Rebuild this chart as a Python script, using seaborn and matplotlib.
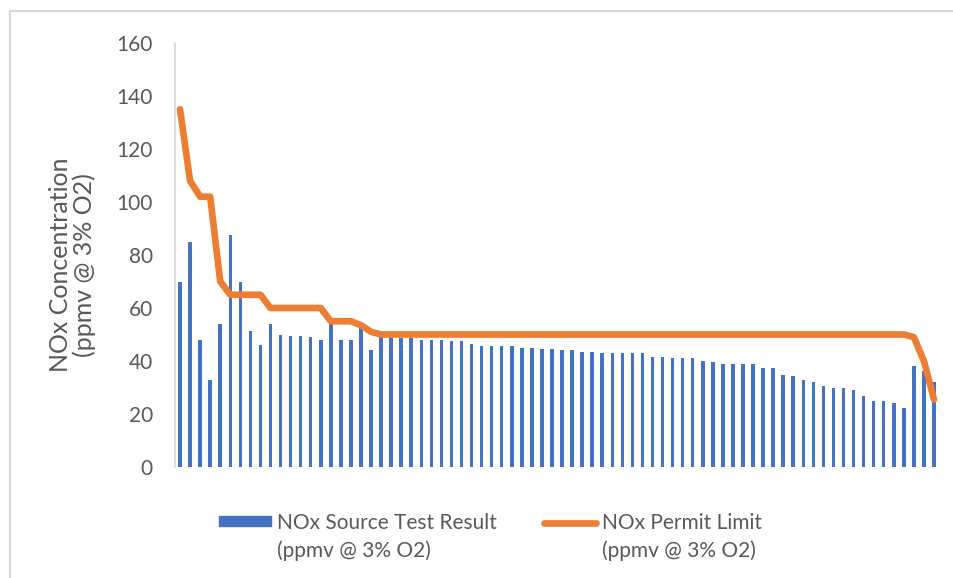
import seaborn as sns
import matplotlib.pyplot as plt
import matplotlib.lines as mlines
import matplotlib.transforms as mtransforms
from matplotlib.legend_handler import HandlerPatch, HandlerLine2D
import pandas as pd

# data
tests = list(range(1, 77))
result = [70, 85, 48, 33, 54, 87.5, 70, 51.5, 46, 54,
          50, 49.5, 49.5, 49, 48, 54, 48, 48, 53, 44,
          49.2, 49.2, 48.6, 48.6, 48, 48, 48, 47.4, 47.4, 46.5,
          45.5, 45.5, 45.5, 45.5, 45, 45, 44.5, 44.5,
          44, 44, 43.5, 43.5, 43, 43, 43, 43, 43, 41.6, 41.6,
          41, 41, 41, 40, 39.6, 38.7, 38.7, 38.7,
          38.7, 37.2, 37.2, 34.8, 34.3, 33, 32, 30.6, 30, 30,
          29.2, 26.7, 24.8, 24.8, 24.3, 22.4, 38.2, 36.3, 32]
limit = [135, 108, 102, 102, 70, 65, 65, 65, 65, 60,
         60, 60, 60, 60, 60, 55, 55, 55, 53.5, 51,
         50, 50, 50, 50, 50, 50, 50, 50, 50, 50,
         50, 50, 50, 50, 50, 50, 50, 50, 50, 50,
         50, 50, 50, 50, 50, 50, 50, 50, 50, 50,
         50, 50, 50, 50, 50, 50, 50, 50, 50, 50,
         50, 50, 50, 50, 50, 50, 50, 50, 50, 50,
         50, 50, 50, 49, 40, 25.5]
yticks = [0, 20, 40, 60, 80, 100, 120, 140, 160]

bar_label = 'NOx Source Test Result\n(ppmv @ 3% O2)'
line_label = 'NOx Permit Limit\n(ppmv @ 3% O2)'

blue = '#4472C4'
orange = '#ED7D31'
grey = '#595959'

df = pd.DataFrame({'test': tests, 'result': result, 'limit': limit})

sns.set_style('white')
plt.rcParams['font.family'] = ['Lato', 'DejaVu Sans']

fig = plt.figure(figsize=(9.54, 5.78), dpi=100)
ax = fig.add_axes([175 / 954, 1 - 467 / 578, 764 / 954, 424 / 578])

sns.barplot(data=df, x='test', y='result', native_scale=True, width=0.35,
            color=blue, saturation=1, edgecolor='none', ax=ax)
sns.lineplot(data=df, x='test', y='limit', color=orange, linewidth=4.8,
             solid_joinstyle='round', solid_capstyle='round', ax=ax)

ax.set_xlim(0.5, 76.5)
ax.set_ylim(0, 160)
ax.set_yticks(yticks)
ax.set_xticks([])
ax.set_xlabel('')
ax.set_ylabel('NOx Concentration\n(ppmv @ 3% O2)', fontsize=18, color=grey,
              linespacing=1.05)
ax.yaxis.set_label_coords(-0.103, 0.476)
ax.tick_params(axis='y', labelsize=15, labelcolor=grey, length=0, pad=16)

for side in ['top', 'right', 'bottom']:
    ax.spines[side].set_visible(False)
ax.spines['left'].set_color('#D9D9D9')
ax.spines['left'].set_linewidth(1.2)


# legend handles sit next to the first line of the label, like Excel
HANDLE_UP = 16


class UpPatch(HandlerPatch):
    def create_artists(self, legend, orig_handle, xdescent, ydescent,
                       width, height, fontsize, trans):
        trans = trans + mtransforms.Affine2D().translate(0, HANDLE_UP)
        return super().create_artists(legend, orig_handle, xdescent, ydescent,
                                      width, height, fontsize, trans)


class UpLine(HandlerLine2D):
    def create_artists(self, legend, orig_handle, xdescent, ydescent,
                       width, height, fontsize, trans):
        trans = trans + mtransforms.Affine2D().translate(0, HANDLE_UP)
        return super().create_artists(legend, orig_handle, xdescent, ydescent,
                                      width, height, fontsize, trans)


h_bar = plt.Rectangle((0, 0), 1, 1, color=blue)
h_line = mlines.Line2D([], [], color=orange, linewidth=4.8, solid_capstyle='round')
leg = fig.legend([h_bar, h_line], [bar_label, line_label], ncol=2, frameon=False,
                 loc='upper left', bbox_to_anchor=(200 / 954, 1 - 494 / 578),
                 fontsize=15, labelcolor=grey, handlelength=2.5, handleheight=0.35,
                 handletextpad=0.3, columnspacing=2.25,
                 handler_map={plt.Rectangle: UpPatch(), mlines.Line2D: UpLine()})
for t in leg.get_texts():
    t.set_linespacing(1.45)

# chart frame
fig.add_artist(mlines.Line2D([10 / 954, 10 / 954], [0, 1 - 11 / 578],
                             transform=fig.transFigure, color='#D9D9D9', linewidth=1.5))
fig.add_artist(mlines.Line2D([10 / 954, 1], [1 - 11 / 578, 1 - 11 / 578],
                             transform=fig.transFigure, color='#D9D9D9', linewidth=1.5))

plt.savefig('out.png', dpi=100)
